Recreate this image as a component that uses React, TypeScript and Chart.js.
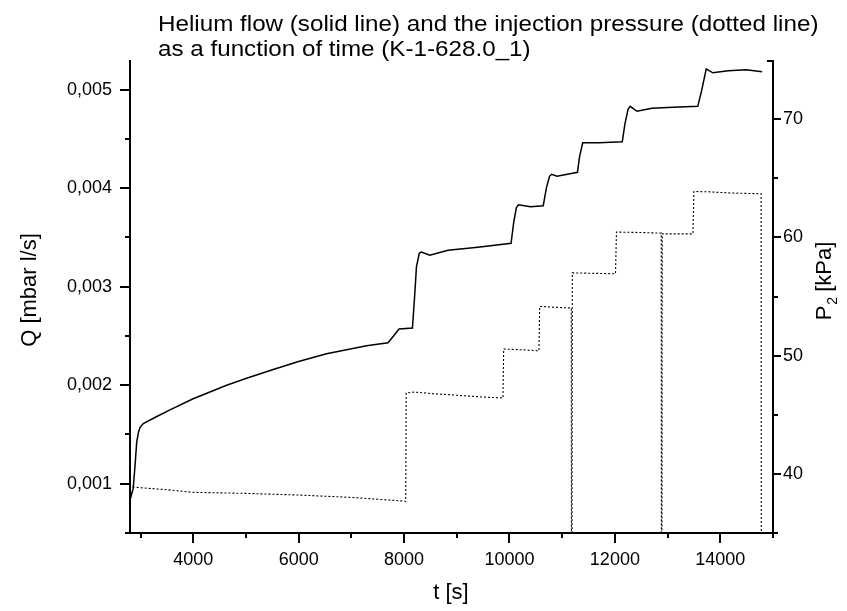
import React, { useEffect, useRef } from "react";
import { Chart, registerables } from "chart.js";

Chart.register(...registerables);

const FONT = "'Liberation Sans', Arial, Helvetica, sans-serif";

const titleLines = [
  "Helium flow (solid line) and the injection pressure (dotted line)",
  "as a function of time (K-1-628.0_1)",
];
const xAxisTitle = "t [s]";
const qAxisTitle = "Q [mbar l/s]";
const pAxisTitleMain = "P";
const pAxisTitleSub = "2";
const pAxisTitleUnit = " [kPa]";

// Helium flow Q [mbar l/s] vs time t [s] (solid line)
const flowTime = [
  2800, 2819, 2860, 2895, 2927, 2960, 2990, 3052, 3300, 3558, 3988, 4633, 5012,
  5517, 5998, 6529, 6908, 7288, 7697, 7800, 7905, 8159, 8200, 8235, 8290, 8330,
  8487, 8834, 9400, 10030, 10080, 10130, 10170, 10400, 10640, 10700, 10760,
  10800, 10900, 11100, 11290, 11330, 11390, 11700, 12140, 12190, 12250, 12290,
  12420, 12700, 13100, 13573, 13650, 13733, 13858, 14150, 14490, 14793,
];
const flowValues = [
  0.00094, 0.00087, 0.00095, 0.00118, 0.00142, 0.00152, 0.00157, 0.00161,
  0.00168, 0.00175, 0.00186, 0.002, 0.00207, 0.00216, 0.00224, 0.00232,
  0.00236, 0.0024, 0.00243, 0.0025, 0.00257, 0.00258, 0.0029, 0.0032, 0.00334,
  0.00335, 0.00332, 0.00337, 0.0034, 0.00344, 0.00365, 0.0038, 0.00383,
  0.00381, 0.00382, 0.004, 0.00412, 0.00414, 0.00412, 0.00414, 0.00416,
  0.00432, 0.00446, 0.00446, 0.00447, 0.00465, 0.0048, 0.00483, 0.00478,
  0.00481, 0.00482, 0.00483, 0.005, 0.00521, 0.00517, 0.00519, 0.0052, 0.00518,
];

// Injection pressure P2 [kPa] vs time t [s] (dotted line)
const pressureTime = [
  2851, 3050, 3496, 3994, 5000, 6000, 7000, 7900, 8032, 8040, 8200, 8500, 9000,
  9500, 9876, 9890, 10200, 10559, 10573, 11173, 11180, 11192, 12012, 12030,
  12400, 12879, 12886, 12900, 13480, 13500, 13800, 14200, 14774, 14782,
];
const pressureValues = [
  38.89, 38.81, 38.66, 38.44, 38.35, 38.21, 38.01, 37.73, 37.67, 46.84, 46.92,
  46.8, 46.65, 46.5, 46.42, 50.56, 50.5, 50.41, 54.16, 54.02, 0, 57.0, 56.92,
  60.45, 60.42, 60.36, 0, 60.3, 60.3, 63.88, 63.85, 63.75, 63.69, 0,
];

const timeTicks = [4000, 6000, 8000, 10000, 12000, 14000];
const timeMinorTicks = [3000, 5000, 7000, 9000, 11000, 13000, 15000];
const flowTicks = [0.001, 0.002, 0.003, 0.004, 0.005];
const flowMinorTicks = [0.0005, 0.0015, 0.0025, 0.0035, 0.0045];
const pressureTicks = [40, 50, 60, 70];
const pressureMinorTicks = [35, 45, 55, 65];

const originStylePlugin = {
  id: "originStyle",
  afterDraw(chart: any) {
    const { ctx, chartArea } = chart;
    const { left, right, top, bottom } = chartArea;
    const sx = chart.scales.x;
    const sq = chart.scales.yQ;
    const sp = chart.scales.yP;
    ctx.save();
    ctx.strokeStyle = "#000";
    ctx.lineWidth = 2;
    ctx.lineCap = "butt";
    ctx.beginPath();
    // axis lines
    ctx.moveTo(left, top);
    ctx.lineTo(left, bottom + 1);
    ctx.moveTo(left - 1, bottom);
    ctx.lineTo(right + 1, bottom);
    ctx.moveTo(right, bottom + 1);
    ctx.lineTo(right, top);
    ctx.moveTo(right + 1, top + 1);
    ctx.lineTo(right - 6, top + 1);
    // x ticks
    timeTicks.forEach((v) => {
      const px = Math.round(sx.getPixelForValue(v));
      ctx.moveTo(px, bottom);
      ctx.lineTo(px, bottom + 10);
    });
    timeMinorTicks.forEach((v) => {
      const px = Math.round(sx.getPixelForValue(v));
      ctx.moveTo(px, bottom);
      ctx.lineTo(px, bottom + 5);
    });
    // left ticks
    flowTicks.forEach((v) => {
      const py = Math.round(sq.getPixelForValue(v));
      ctx.moveTo(left, py);
      ctx.lineTo(left - 10, py);
    });
    flowMinorTicks.forEach((v) => {
      const py = Math.round(sq.getPixelForValue(v));
      ctx.moveTo(left, py);
      ctx.lineTo(left - 5, py);
    });
    // right ticks
    pressureTicks.forEach((v) => {
      const py = Math.round(sp.getPixelForValue(v));
      ctx.moveTo(right, py);
      ctx.lineTo(right + 8, py);
    });
    pressureMinorTicks.forEach((v) => {
      const py = Math.round(sp.getPixelForValue(v));
      ctx.moveTo(right, py);
      ctx.lineTo(right + 5, py);
    });
    ctx.stroke();

    ctx.fillStyle = "#000";
    // chart title (slightly widened glyphs as in the original)
    ctx.save();
    ctx.font = `22px ${FONT}`;
    ctx.textAlign = "left";
    ctx.textBaseline = "alphabetic";
    ctx.translate(158, 0);
    ctx.scale(1.1, 1);
    ctx.fillText(titleLines[0], 0, 31);
    ctx.fillText(titleLines[1], 0, 56);
    ctx.restore();

    // x axis title
    ctx.font = `22px ${FONT}`;
    ctx.textAlign = "center";
    ctx.textBaseline = "alphabetic";
    ctx.fillText(xAxisTitle, 451, 599);

    // left axis title
    ctx.save();
    ctx.translate(36, 290);
    ctx.rotate(-Math.PI / 2);
    ctx.textAlign = "center";
    ctx.fillText(qAxisTitle, 0, 0);
    ctx.restore();

    // right axis title
    ctx.save();
    ctx.translate(831, 281);
    ctx.rotate(-Math.PI / 2);
    ctx.textAlign = "left";
    ctx.font = `22px ${FONT}`;
    const wP = ctx.measureText(pAxisTitleMain).width;
    const wU = ctx.measureText(pAxisTitleUnit).width;
    ctx.font = `14px ${FONT}`;
    const wS = ctx.measureText(pAxisTitleSub).width;
    const total = wP + wS + wU;
    let cx = -total / 2;
    ctx.font = `22px ${FONT}`;
    ctx.fillText(pAxisTitleMain, cx, 0);
    cx += wP;
    ctx.font = `14px ${FONT}`;
    ctx.fillText(pAxisTitleSub, cx + 1, 6);
    cx += wS;
    ctx.font = `22px ${FONT}`;
    ctx.fillText(pAxisTitleUnit, cx, 0);
    ctx.restore();

    ctx.restore();
  },
};

export default function App() {
  const canvasRef = useRef<HTMLCanvasElement | null>(null);

  useEffect(() => {
    if (!canvasRef.current) return;
    const flowData = flowTime.map((t, i) => ({ x: t, y: flowValues[i] }));
    const pressureData = pressureTime.map((t, i) => ({ x: t, y: pressureValues[i] }));
    const tickFont = { family: FONT, size: 18 };

    const chart = new Chart(canvasRef.current, {
      type: "line",
      data: {
        datasets: [
          {
            label: "Helium flow",
            data: flowData,
            yAxisID: "yQ",
            borderColor: "#000",
            borderWidth: 1.5,
            pointRadius: 0,
            tension: 0,
            fill: false,
          },
          {
            label: "Injection pressure",
            data: pressureData,
            yAxisID: "yP",
            borderColor: "#000",
            borderWidth: 1.1,
            borderDash: [2, 2],
            pointRadius: 0,
            tension: 0,
            fill: false,
          },
        ],
      },
      options: {
        animation: false,
        responsive: false,
        events: [],
        layout: { padding: { top: 60, left: 0, right: 0, bottom: 0 } },
        plugins: {
          legend: { display: false },
          title: { display: false },
          tooltip: { enabled: false },
        },
        scales: {
          x: {
            type: "linear",
            position: "bottom",
            min: 2800,
            max: 15000,
            grid: { display: false, drawTicks: false },
            border: { display: false },
            afterBuildTicks: (scale: any) => {
              scale.ticks = timeTicks.map((v) => ({ value: v }));
            },
            afterFit: (scale: any) => {
              scale.height = 78;
            },
            ticks: {
              font: tickFont,
              color: "#000",
              padding: 16,
              maxRotation: 0,
              autoSkip: false,
              callback: (v: any) => String(v),
            },
          },
          yQ: {
            type: "linear",
            position: "left",
            min: 0.0005,
            max: 0.0053,
            grid: { display: false, drawTicks: false },
            border: { display: false },
            afterBuildTicks: (scale: any) => {
              scale.ticks = flowTicks.map((v) => ({ value: v }));
            },
            afterFit: (scale: any) => {
              scale.width = 130;
            },
            ticks: {
              font: tickFont,
              color: "#000",
              padding: 18,
              autoSkip: false,
              callback: (v: any) => Number(v).toFixed(3).replace(".", ","),
            },
          },
          yP: {
            type: "linear",
            position: "right",
            min: 35,
            max: 75,
            grid: { display: false, drawTicks: false },
            border: { display: false },
            afterBuildTicks: (scale: any) => {
              scale.ticks = pressureTicks.map((v) => ({ value: v }));
            },
            afterFit: (scale: any) => {
              scale.width = 74;
            },
            ticks: {
              font: tickFont,
              color: "#000",
              padding: 10,
              autoSkip: false,
              callback: (v: any) => String(v),
            },
          },
        },
      },
      plugins: [originStylePlugin],
    });

    return () => {
      chart.destroy();
    };
  }, []);

  return (
    <div style={{ position: "absolute", left: 0, top: 0, width: 847, height: 611, background: "#fff" }}>
      <canvas ref={canvasRef} width={847} height={611} style={{ display: "block" }} />
    </div>
  );
}
